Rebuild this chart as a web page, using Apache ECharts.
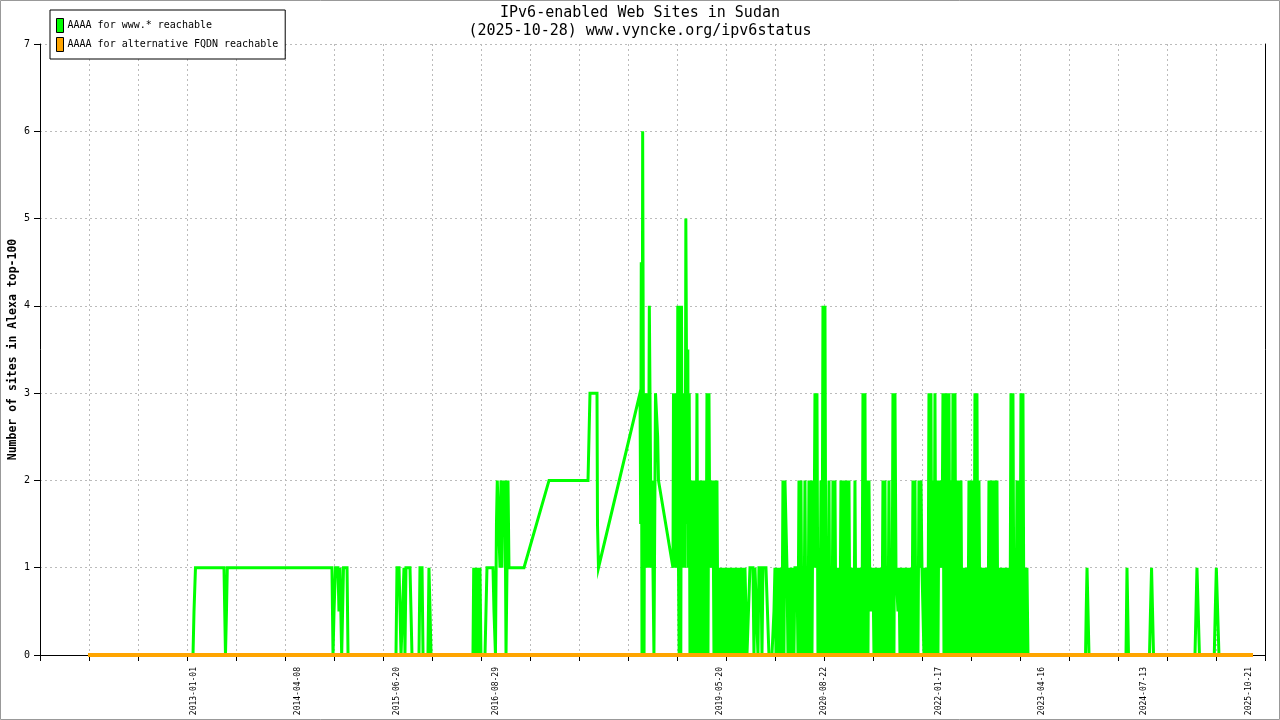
<!DOCTYPE html>
<html>
<head>
<meta charset="utf-8">
<script src="https://cdn.jsdelivr.net/npm/echarts@6/dist/echarts.min.js"></script>
<style>
html,body{margin:0;padding:0;background:#fff;}
#chart{width:1280px;height:720px;}
</style>
</head>
<body>
<div id="chart"></div>
<script>
// ---- data (x = decimal year, y = number of sites) ----
var tickLabels = ['2013-01-01','2014-04-08','2015-06-20','2016-08-29','2019-05-20','2020-08-22','2022-01-17','2023-04-16','2024-07-13','2025-10-21'];

var wwwEarly = [
  [2011.714,0],[2012.988,0],[2013.000,0.5],[2013.018,1],[2013.364,1],[2013.373,0.5],[2013.382,0],[2013.394,0.5],[2013.404,1],
  [2014.674,1],[2014.687,0],[2014.699,0.5],[2014.717,1],[2014.747,1],[2014.759,0.5],[2014.772,1],[2014.784,1],[2014.792,0],[2014.804,0],[2014.814,1],[2014.857,1],[2014.869,0],
  [2015.451,0],[2015.463,1],[2015.488,1],[2015.500,0.5],[2015.512,0],[2015.536,0],[2015.548,1],[2015.560,0],[2015.572,1],[2015.621,1],[2015.633,0.5],[2015.645,0],
  [2015.730,0],[2015.742,1],[2015.767,1],[2015.779,0],[2015.839,0],[2015.851,1],[2015.864,0.5],[2015.876,0],
  [2016.385,0],[2016.394,1],[2016.404,0],[2016.413,1],[2016.422,0],[2016.434,1],[2016.444,0],[2016.452,1],[2016.462,0],[2016.470,1],[2016.482,0],
  [2016.531,0],[2016.543,0.5],[2016.555,1],[2016.628,1],[2016.640,0.5],[2016.658,0],[2016.670,1.5],[2016.680,2],[2016.701,2],[2016.713,1],[2016.725,2],[2016.737,1],[2016.749,2],[2016.762,1.5],[2016.774,2],[2016.786,0],[2016.798,0],[2016.810,2],[2016.822,1],[2016.834,1],
  [2017.004,1],[2017.308,2],[2017.781,2],[2017.793,2.5],[2017.805,3],[2017.890,3],[2017.896,1.5],[2017.908,1],[2018.412,3]
];

var wwwPeak = [
  [2018.420,1.5],[2018.427,4.5],[2018.436,0],[2018.444,6],[2018.454,6],[2018.461,0],[2018.469,3],[2018.476,1],[2018.485,3],[2018.493,1],[2018.503,3],[2018.513,1],[2018.525,4],[2018.542,4],[2018.549,1],[2018.557,2],[2018.569,2],[2018.581,0],[2018.594,0],[2018.600,3],[2018.618,3],[2018.626,2.5],[2018.636,2],[2018.812,1],
  [2018.818,3],[2018.827,1],[2018.837,2],[2018.846,1],[2018.855,3],[2018.863,1],[2018.870,4],[2018.879,1],[2018.887,0],[2018.897,4],[2018.907,0],[2018.915,4],[2018.925,1],[2018.934,3],[2018.943,1],[2018.952,3],[2018.960,1],[2018.968,5],[2018.976,5],[2018.985,1.5],[2018.992,3.5],[2019.000,1],[2019.009,3]
];

// dense period: one sample every ~4.4 days starting 2019.018
var denseStart = 2019.018;
var denseStep = 0.012134;
var denseValues = [
  0,2,0,2,0,2,0,3,0,2,  0,2,0,2,0,2,0,3,0,3,
  1,2,1,2,0,2,0,2,0,1,  0,1,0,1,0,1,0,1,0,1,
  0,1,0,1,0,1,0,1,0,1,  0,1,0,1,0,1,0.5,0,0,0,
  1,1,1,1,0,1,1,1,0,1,  1,1,0,1,1,1,1,1,1,0,
  0,0,0,0,0.5,1,0,1,0,1, 0,1,0,2,0,2,1.5,1,0,1,
  0,1,0,1,0,1,1,1,0,2,  0,2,0,1,0,2,0,1,0,2,
  0,2,0,2,1,3,1,3,0,1,  0,2,0,4,0,4,0,1,0,2,
  0,1,0,2,0,2,0,1,0,1,  0,2,0,2,0,2,0,2,0,2,
  0,1,0,1,0,2,0,1,0,1,  0,1,0,3,0,3,0,2,0,2,
  0.5,1,0.5,1,0,1,0,1,0,1, 0,1,0,2,0,2,0,1,0,2,
  0,1,0,3,0,3,1,1,0.5,1, 0,1,0,1,0,1,0,1,0,1,
  0,1,0,2,0,2,0,1,0,2,  1,2,1,1,0,1,0,1,0,3,
  0,3,0,2,0,3,0,2,0,2,  1,2,1,3,0,3,0,3,0,3,
  0,2,0,3,0,3,0,2,0,2,  0,2,0,1,0,1,0,1,0,2,
  0,2,0,2,0,3,0,3,0,2,  0,1,0,1,0,1,0,1,0,2,
  0,2,0,2,0,2,0,2,0,1,  0,1,0,1,0,1,0,1,0,1,
  0,3,0,3,0,1,0,2,0,2,  0,3,0,3,0,1,0,1,0
];

var wwwLate = [
  [2023.818,0],[2023.826,0.5],[2023.836,1],[2023.848,1],[2023.860,0],
  [2024.309,0],[2024.321,1],[2024.339,0],
  [2024.594,0],[2024.606,0.5],[2024.619,1],[2024.631,1],[2024.643,0],
  [2025.146,0],[2025.158,0.5],[2025.170,1],[2025.188,1],[2025.200,0],
  [2025.380,0],[2025.392,0.5],[2025.405,1],[2025.425,1],[2025.437,0],
  [2025.850,0]
];

var altFqdn = [[2011.714,0],[2025.850,0]];

// ---- build ----
function toYear(s){
  var p = s.split('-').map(Number);
  var t0 = Date.UTC(p[0],0,1), t1 = Date.UTC(p[0]+1,0,1);
  return p[0] + (Date.UTC(p[0],p[1]-1,p[2]) - t0) / (t1 - t0);
}
var tickValues = tickLabels.map(toYear);

var wwwData = wwwEarly.concat(wwwPeak);
denseValues.forEach(function(v,i){ wwwData.push([denseStart + i*denseStep, v]); });
wwwData = wwwData.concat(wwwLate);

var MONO = 'DejaVu Sans Mono';
var gridDash = {color:'#bbbbbb', width:1, type:[2,3]};

var chart = echarts.init(document.getElementById('chart'));
chart.setOption({
  animation:false,
  backgroundColor:'#fff',
  title:{
    text:'IPv6-enabled Web Sites in Sudan\n(2025-10-28) www.vyncke.org/ipv6status',
    left:'center', top:4, padding:0,
    textStyle:{fontFamily:MONO, fontSize:15, fontWeight:'normal', lineHeight:18, color:'#000'}
  },
  legend:{
    left:50, top:10, orient:'vertical', icon:'rect',
    itemWidth:7, itemHeight:14, itemGap:4,
    padding:[8,7,7,6],
    backgroundColor:'#fff', borderColor:'#000', borderWidth:1,
    itemStyle:{borderColor:'#000', borderWidth:1},
    textStyle:{fontFamily:MONO, fontSize:10, color:'#000', padding:[0,0,0,-1]},
    data:['AAAA for www.* reachable','AAAA for alternative FQDN reachable']
  },
  grid:{left:40, right:15, top:44, bottom:65, containLabel:false, outerBoundsMode:'none'},
  xAxis:[
    {
      type:'value', min:2011.1314, max:2025.9955, position:'bottom',
      axisLine:{show:false}, axisTick:{show:false}, splitLine:{show:false},
      axisLabel:{
        customValues:tickValues,
        rotate:90, margin:12, fontFamily:MONO, fontSize:8, color:'#000',
        formatter:function(v){
          for (var i=0;i<tickValues.length;i++){ if (Math.abs(tickValues[i]-v)<1e-6) return tickLabels[i]; }
          return '';
        }
      }
    },
    {
      type:'value', min:0, max:25, interval:1, position:'bottom',
      axisLine:{show:true, onZero:false, lineStyle:{color:'#000', width:1}},
      axisTick:{show:true, length:6, lineStyle:{color:'#000'}},
      axisLabel:{show:false},
      splitLine:{show:true, lineStyle:gridDash}
    }
  ],
  yAxis:[
    {
      type:'value', min:0, max:7, interval:1,
      name:'Number of sites in Alexa top-100', nameLocation:'middle', nameGap:21, nameMoveOverlap:false,
      nameTextStyle:{fontFamily:MONO, fontSize:11.5, fontWeight:'bold', color:'#000'},
      axisLine:{show:true, lineStyle:{color:'#000', width:1}},
      axisTick:{show:true, length:6, lineStyle:{color:'#000'}},
      axisLabel:{fontFamily:MONO, fontSize:10, color:'#000', margin:10},
      splitLine:{show:true, lineStyle:gridDash}
    },
    {
      type:'value', min:0, max:7, interval:1, position:'right',
      axisLine:{show:true, lineStyle:{color:'#000', width:1}},
      axisTick:{show:false}, axisLabel:{show:false}, splitLine:{show:false}
    }
  ],
  graphic:[{
    type:'rect', silent:true, z:100,
    shape:{x:0.5, y:0.5, width:1279, height:719},
    style:{fill:'none', stroke:'#999', lineWidth:1}
  }],
  series:[
    {
      name:'AAAA for www.* reachable', type:'line', xAxisIndex:0, yAxisIndex:0,
      data:wwwData, showSymbol:false, symbol:'none',
      itemStyle:{color:'#00ff00'},
      lineStyle:{color:'#00ff00', width:3, join:'miter'},
      z:2
    },
    {
      name:'AAAA for alternative FQDN reachable', type:'line', xAxisIndex:0, yAxisIndex:0,
      data:altFqdn, showSymbol:false, symbol:'none',
      itemStyle:{color:'#ffa500'},
      lineStyle:{color:'#ffa500', width:4},
      z:3
    }
  ]
});
</script>
</body>
</html>
